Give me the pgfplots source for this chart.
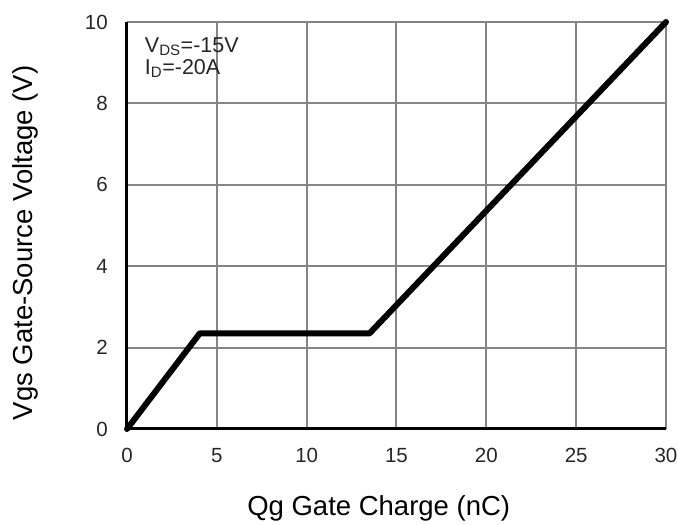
\documentclass[border=0pt]{standalone}
\usepackage{pgfplots}
\pgfplotsset{compat=1.18}
\usepackage{fontspec}
\setmainfont{Liberation Sans}
\begin{document}
\begin{tikzpicture}
\begin{axis}[
  at={(0,0)}, anchor=south west,
  scale only axis, width=539pt, height=407pt,
  xmin=0, xmax=30, ymin=0, ymax=10,
  xtick={0,5,...,30}, ytick={0,2,...,10},
  axis x line*=bottom, axis y line*=left,
  axis line style={black, line width=3pt},
  grid=major,
  major grid style={draw=black!48, line width=2pt},
  major tick length=0pt,
  /pgf/number format/assume math mode=true,
  ticklabel style={font=\fontsize{20.5}{24}\selectfont, inner sep=0pt, text=black!85},
  xticklabel style={anchor=base, yshift=-34pt},
  yticklabel style={anchor=east, xshift=-19pt},
  xlabel={Qg Gate Charge (nC)},
  ylabel={Vgs Gate-Source Voltage (V)},
  label style={font=\fontsize{27.5}{32}\selectfont},
  xlabel style={at={(axis description cs:0.467,-0.194)}, anchor=center},
  ylabel style={at={(axis description cs:-0.189,0.457)}, anchor=center, rotate=0},
  clip=false,
]
\addplot[black, line width=6pt, line join=round, line cap=round] coordinates {
  (0,0) (4.05,2.35) (13.5,2.35) (30,10)
};
\node[anchor=north west, align=left, inner sep=0pt, font=\fontsize{21.5}{22}\selectfont, text=black!85]
  at (axis description cs:0.033,0.963) {V$_{\mathrm{DS}}$=-15V\\I$_{\mathrm{D}}$=-20A};
\end{axis}
\path (-127pt,-94pt) rectangle (551pt,429pt);
\end{tikzpicture}
\end{document}
